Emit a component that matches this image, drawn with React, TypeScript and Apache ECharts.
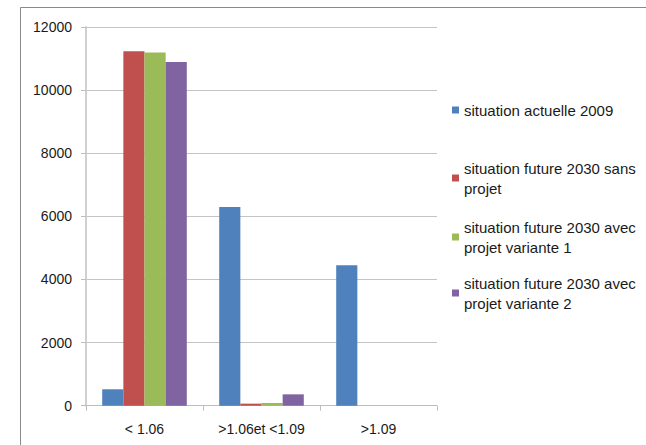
import React, { useEffect, useRef } from "react";
import * as echarts from "echarts";

const categories = ["< 1.06", ">1.06et <1.09", ">1.09"];
const seriesNames = [
  "situation actuelle 2009",
  "situation future 2030 sans projet",
  "situation future 2030 avec projet variante 1",
  "situation future 2030 avec projet variante 2",
];
const legendLabels = [
  "situation actuelle 2009",
  "situation future 2030 sans\nprojet",
  "situation future 2030 avec\nprojet variante 1",
  "situation future 2030 avec\nprojet variante 2",
];
const actuelle2009 = [520, 6300, 4450];
const sansProjet2030 = [11230, 65, 0];
const variante1 = [11190, 85, 0];
const variante2 = [10890, 360, 0];
const seriesValues = [actuelle2009, sansProjet2030, variante1, variante2];
const colors = ["#4F81BD", "#C0504D", "#9BBB59", "#8064A2"];
const legendTops = [100, 148, 207, 263];

export default function App() {
  const ref = useRef<HTMLDivElement>(null);
  useEffect(() => {
    if (!ref.current) return;
    const chart = echarts.init(ref.current, undefined, { renderer: "svg" });
    const font = "'Liberation Sans', Arial, sans-serif";
    chart.setOption({
      animation: false,
      backgroundColor: "#ffffff",
      textStyle: { fontFamily: font },
      grid: { left: 86, right: 209, top: 27, bottom: 39.3 },
      graphic: [
        {
          type: "rect",
          shape: { x: 20.5, y: 7.5, width: 700, height: 500 },
          style: { fill: "none", stroke: "#8a8a8a", lineWidth: 1 },
          silent: true,
        },
      ],
      legend: seriesNames.map((n, i) => ({
        data: [n],
        orient: "vertical",
        left: 452,
        top: legendTops[i],
        padding: 0,
        itemWidth: 7,
        itemHeight: 7,
        itemGap: 0,
        icon: "rect",
        selectedMode: false,
        formatter: () => legendLabels[i],
        textStyle: {
          fontFamily: font,
          fontSize: 15,
          color: "#1a1a1a",
          lineHeight: 20,
          padding: legendLabels[i].includes("\n") ? [20, 0, 0, 0] : 0,
        },
      })),
      xAxis: {
        type: "category",
        data: categories,
        axisLine: { show: true, lineStyle: { color: "#BDBDBD", width: 1 } },
        axisTick: { show: true, length: 5, lineStyle: { color: "#BDBDBD" } },
        axisLabel: { color: "#1a1a1a", fontSize: 14, margin: 16, fontFamily: font },
        splitLine: { show: false },
      },
      yAxis: {
        type: "value",
        min: 0,
        max: 12000,
        interval: 2000,
        axisLine: { show: true, lineStyle: { color: "#D0D0D0", width: 2 } },
        axisTick: { show: true, length: 5, lineStyle: { color: "#BDBDBD" } },
        axisLabel: {
          color: "#1a1a1a",
          fontSize: 14,
          margin: 14,
          fontFamily: font,
          formatter: (v: number) => String(v),
        },
        splitLine: { show: true, lineStyle: { color: "#C4C4C4", width: 1 } },
      },
      series: seriesNames.map((n, i) => ({
        name: n,
        type: "bar",
        data: seriesValues[i],
        barGap: "0%",
        barCategoryGap: "27.7%",
        itemStyle: { color: colors[i] },
      })),
    });
    return () => chart.dispose();
  }, []);
  return (
    <div
      ref={ref}
      style={{ position: "absolute", left: 0, top: 0, width: 646, height: 445 }}
    />
  );
}
